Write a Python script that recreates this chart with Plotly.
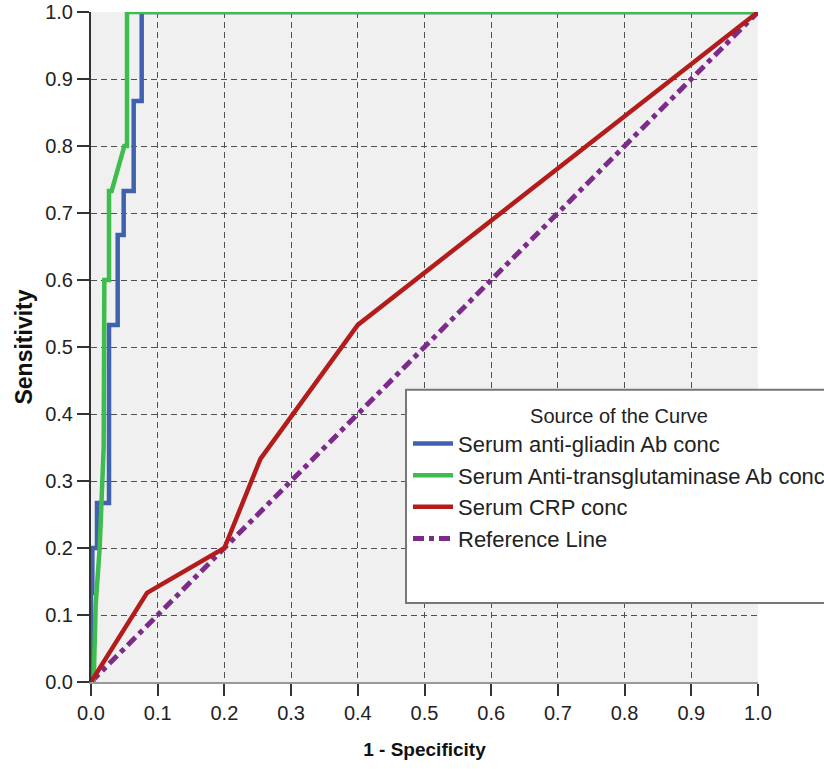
import plotly.graph_objects as go

# ROC curve data (1 - Specificity, Sensitivity)
gliadin_x = [0.0, 0.0, 0.002, 0.002, 0.009, 0.009, 0.027, 0.027, 0.040, 0.040, 0.049, 0.049, 0.064, 0.064, 0.076, 0.076, 1.0]
gliadin_y = [0.0, 0.133, 0.133, 0.2, 0.2, 0.267, 0.267, 0.533, 0.533, 0.667, 0.667, 0.733, 0.733, 0.867, 0.867, 1.0, 1.0]

ttg_x = [0.0, 0.004, 0.007, 0.013, 0.019, 0.020, 0.027, 0.027, 0.031, 0.050, 0.054, 0.054, 1.0]
ttg_y = [0.0, 0.0, 0.115, 0.2, 0.35, 0.6, 0.6, 0.733, 0.733, 0.8, 0.8, 1.0, 1.0]

crp_x = [0.0, 0.084, 0.2, 0.254, 0.400, 1.0]
crp_y = [0.0, 0.133, 0.2, 0.333, 0.533, 1.0]

ref_x = [0.0, 1.0]
ref_y = [0.0, 1.0]

tick_vals = [0.0, 0.1, 0.2, 0.3, 0.4, 0.5, 0.6, 0.7, 0.8, 0.9, 1.0]
tick_text = ["0.0", "0.1", "0.2", "0.3", "0.4", "0.5", "0.6", "0.7", "0.8", "0.9", "1.0"]

names = ["Serum anti-gliadin Ab conc", "Serum Anti-transglutaminase Ab conc",
         "Serum CRP conc", "Reference Line"]
colors = ["#4060b0", "#3dbd4c", "#b41c1c", "#7d2b8b"]

FONT = "Liberation Sans, Arial, sans-serif"

fig = go.Figure()
fig.add_trace(go.Scatter(x=ref_x, y=ref_y, mode="lines", name=names[3], legendrank=4,
                         line=dict(color=colors[3], width=5, dash="11px,5px,5px,5px")))
fig.add_trace(go.Scatter(x=gliadin_x, y=gliadin_y, mode="lines", name=names[0], legendrank=1,
                         line=dict(color=colors[0], width=4.5)))
fig.add_trace(go.Scatter(x=ttg_x, y=ttg_y, mode="lines", name=names[1], legendrank=2,
                         line=dict(color=colors[1], width=4.5)))
fig.add_trace(go.Scatter(x=crp_x, y=crp_y, mode="lines", name=names[2], legendrank=3,
                         line=dict(color=colors[2], width=4.5)))

axis_common = dict(
    range=[0, 1], tickvals=tick_vals, ticktext=tick_text,
    showgrid=True, gridcolor="#505050", griddash="6px,4px", gridwidth=1.4,
    zeroline=False, ticks="outside", ticklen=12, tickwidth=2, tickcolor="#333333",
    tickfont=dict(family=FONT, size=20, color="#222222"),
    showline=True, linewidth=2, automargin=False,
)

fig.update_xaxes(**axis_common, linecolor="#999999",
                 title=dict(text="<b>1 - Specificity</b>", standoff=20,
                            font=dict(family=FONT, size=19, color="#111111")))
fig.update_yaxes(**axis_common, linecolor="#333333",
                 title=dict(text="<b>Sensitivity</b>", standoff=6,
                            font=dict(family=FONT, size=23, color="#111111")))

# legend frame (box is larger than the entries and runs past the right edge)
fig.add_shape(type="rect", xref="paper", yref="paper",
              x0=(406 - 91) / 667, x1=1.2, y0=(682 - 603) / 669.5, y1=(682 - 390) / 669.5,
              fillcolor="white", line=dict(color="#777777", width=2), layer="above")

fig.update_layout(
    width=824, height=769,
    margin=dict(l=91, r=66, t=12, b=87, autoexpand=False),
    paper_bgcolor="white", plot_bgcolor="#f0f0f0",
    showlegend=True,
    legend=dict(
        x=(408 - 91) / 667, y=(682 - 397) / 669.5, xanchor="left", yanchor="top",
        bgcolor="rgba(0,0,0,0)", borderwidth=0,
        font=dict(family=FONT, size=22, color="#222222"),
        title=dict(text="Source of the Curve", side="top center",
                   font=dict(family=FONT, size=20, color="#222222")),
        itemwidth=40,
    ),
)

fig.write_html("out.html", config={"displayModeBar": False},
               post_script="document.body.style.margin='0px';")
